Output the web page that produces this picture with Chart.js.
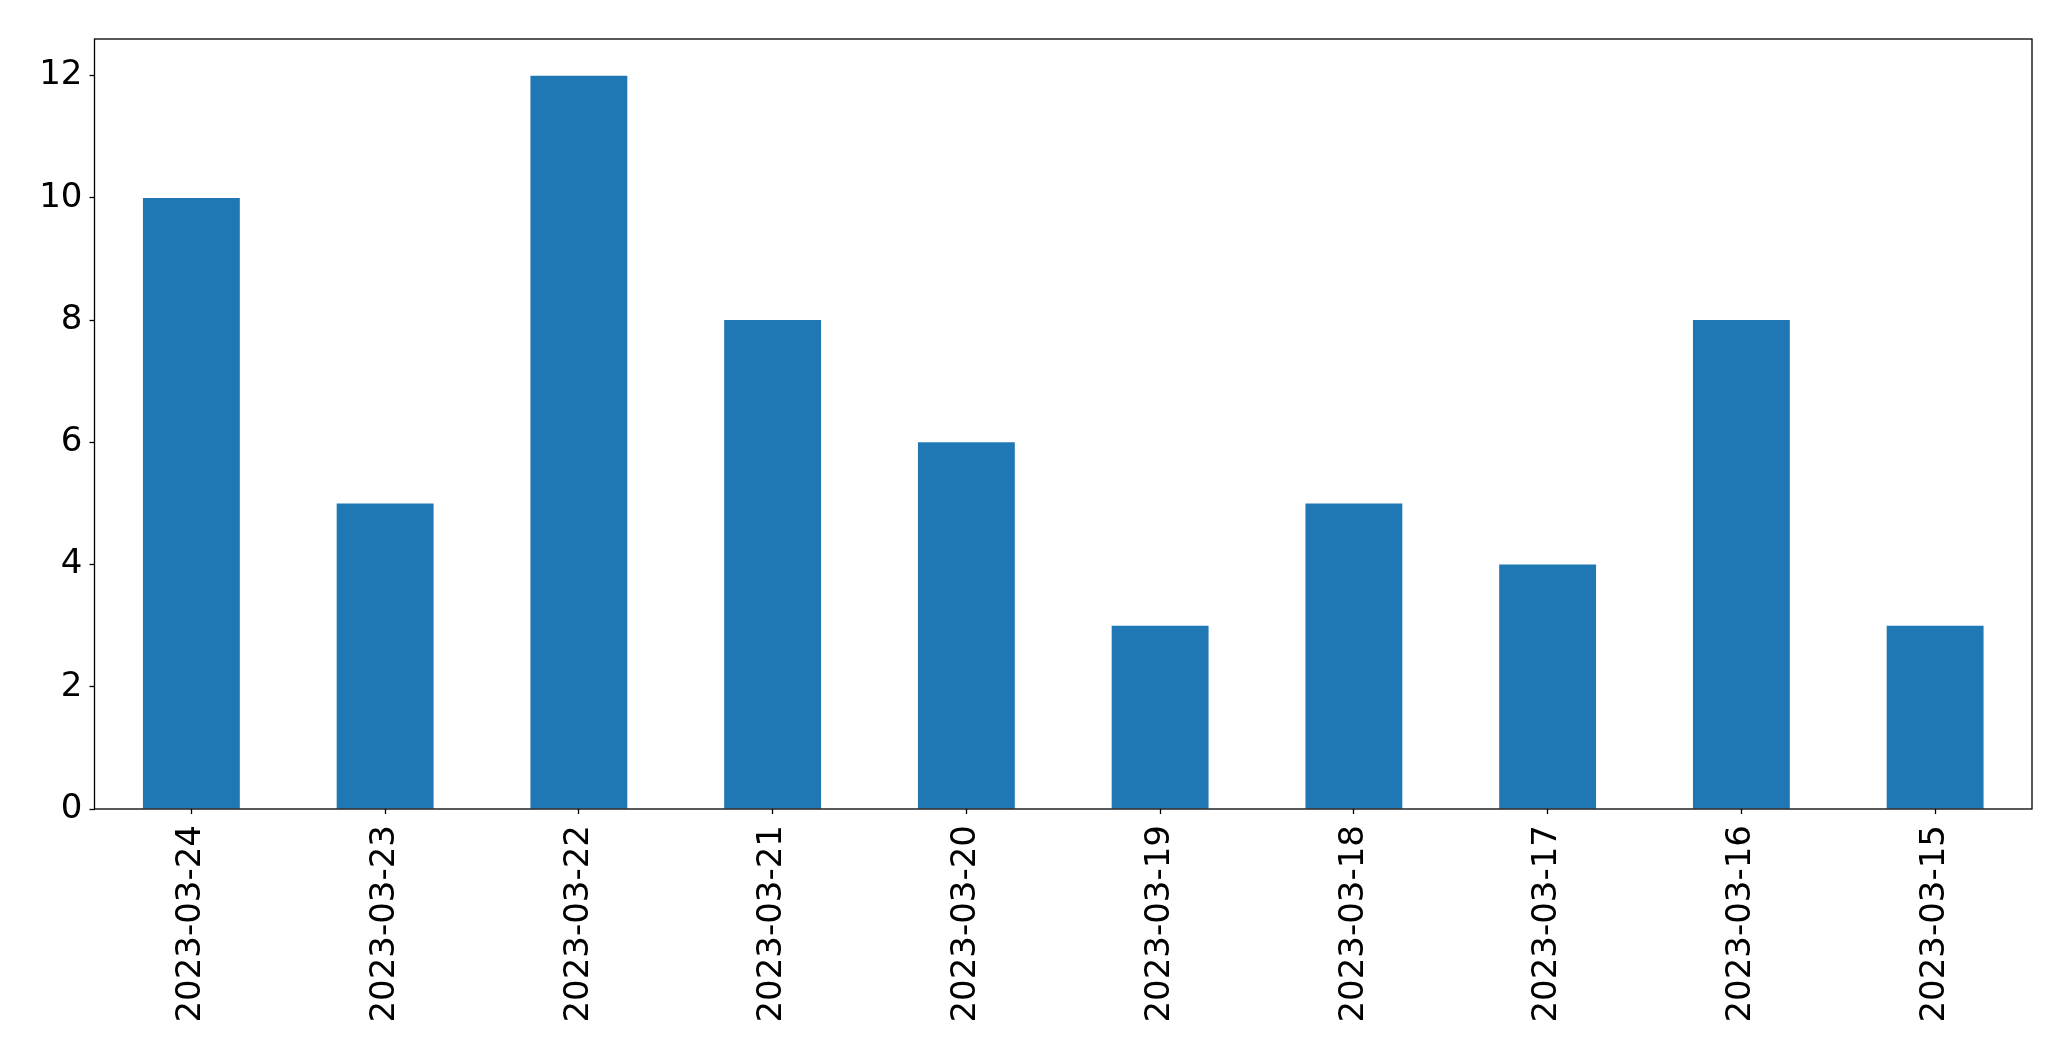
<!DOCTYPE html>
<html>
<head>
<meta charset="utf-8">
<script src="https://cdn.jsdelivr.net/npm/chart.js@4/dist/chart.umd.min.js"></script>
<style>
html,body{margin:0;padding:0;background:#fff;}
#wrap{width:2071px;height:1061px;position:relative;}
</style>
</head>
<body>
<div id="wrap"><canvas id="c" width="2071" height="1061"></canvas></div>
<script>
const categories = ['2023-03-24','2023-03-23','2023-03-22','2023-03-21','2023-03-20','2023-03-19','2023-03-18','2023-03-17','2023-03-16','2023-03-15'];
const counts = [10,5,12,8,6,3,5,4,8,3];
const yTicks = [0,2,4,6,8,10,12];
const yMax = 12.6;

const framePlugin = {
  id: 'frame',
  afterDatasetsDraw(chart) {
    const a = chart.chartArea, ctx = chart.ctx;
    ctx.save();
    ctx.strokeStyle = '#000';
    ctx.lineWidth = 1.3;
    ctx.strokeRect(a.left, a.top, a.right - a.left, a.bottom - a.top);
    ctx.restore();
  }
};

const FONT = {family: '"DejaVu Sans", sans-serif', size: 34};

new Chart(document.getElementById('c'), {
  type: 'bar',
  data: {
    labels: categories,
    datasets: [{
      data: counts,
      backgroundColor: '#1f77b4',
      borderWidth: 0,
      categoryPercentage: 1.0,
      barPercentage: 0.5
    }]
  },
  options: {
    responsive: false,
    animation: false,
    devicePixelRatio: 1,
    layout: {padding: {top: 39, right: 39, left: 0, bottom: 0}},
    plugins: {legend: {display: false}, tooltip: {enabled: false}},
    scales: {
      x: {
        grid: {display: true, offset: false, drawOnChartArea: false, drawTicks: true, tickLength: 5, tickColor: '#000', tickWidth: 1.3},
        border: {display: false},
        ticks: {color: '#000', font: FONT, minRotation: 90, maxRotation: 90, autoSkip: false, padding: 11},
        afterFit(s) { s.height = 252; }
      },
      y: {
        min: 0,
        max: yMax,
        grid: {display: true, drawOnChartArea: false, drawTicks: true, tickLength: 5, tickColor: '#000', tickWidth: 1.3},
        border: {display: false},
        ticks: {color: '#000', font: FONT, padding: 7},
        afterBuildTicks(s) { s.ticks = yTicks.map(v => ({value: v})); },
        afterFit(s) { s.width = 94.5; }
      }
    }
  },
  plugins: [framePlugin]
});
</script>
</body>
</html>
